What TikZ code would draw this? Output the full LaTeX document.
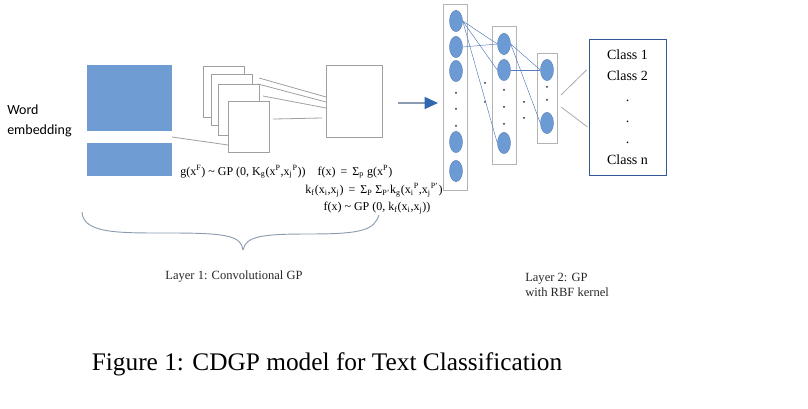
\documentclass[tikz,border=0pt]{standalone}
\usepackage{fontspec}
\setmainfont{Liberation Serif}
\newfontfamily\wordfont{Carlito}
\usepackage{xcolor}
\usetikzlibrary{positioning}
\usetikzlibrary{shapes.geometric}
\usetikzlibrary{arrows.meta}
\definecolor{embedblue}{RGB}{110,156,211}
\definecolor{nodeblue}{RGB}{108,154,212}
\definecolor{linkblue}{RGB}{84,124,190}
\definecolor{framegray}{RGB}{160,160,164}
\definecolor{classblue}{RGB}{52,88,150}
\definecolor{bracegray}{RGB}{140,156,176}
\definecolor{arrowblue}{RGB}{46,104,176}
\tikzset{%
    embed/.style={inner sep=0pt,outer sep=0pt,shape=rectangle,fill=embedblue,anchor=north west},
    frame/.style={inner sep=0pt,outer sep=0pt,shape=rectangle,draw=framegray,fill=white,line width=0.6pt,anchor=north west,minimum width=30.75pt,minimum height=38.25pt},
    feed/.style={draw=framegray,line width=0.6pt},
    layerbox/.style={inner sep=0pt,outer sep=0pt,shape=rectangle,draw=framegray!80,line width=0.6pt},
    neuron/.style={shape=ellipse,inner sep=0pt,fill=nodeblue,draw=nodeblue!85!black,line width=0.3pt,minimum width=9.75pt,minimum height=16pt},
    link/.style={draw=linkblue,line width=0.35pt},
    formula/.style={font=\fontsize{9}{10}\selectfont,inner sep=0pt},
    layerlabel/.style={font=\fontsize{9.4}{11.25}\selectfont,text=black!85,inner sep=0pt},
}

\begin{document}
\begin{tikzpicture}[x=0.75pt,y=-0.75pt]
        \useasboundingbox (0,0) rectangle (808,409);

        \node [anchor=west,align=left,inner sep=0pt,font=\wordfont\fontsize{10.5}{15}\selectfont] (word) at (7,121) {Word\\embedding};

        \node [embed,minimum width=63.75pt,minimum height=83.25pt] (emb) at (87,65) {};
        \node [embed,fill=white,minimum width=63.75pt,minimum height=9pt] (band) at (87,131) {};

        \foreach \x/\y [count=\i] in {203/66,211/74,218/84,228/101}
            \node [frame] (f\i) at (\x,\y) {};
        \node [frame,minimum width=42pt,minimum height=54pt] (pool) at (326,65) {};

        \draw [feed] (band.east) -- ([yshift=5.25pt]f4.south west);
        \draw [feed] ([shift={(5.25pt,-3pt)}]f2.north east) -- ([yshift=3pt]pool.west);
        \draw [feed] ([xshift=-0.75pt]f3.north east) -- ([yshift=-0.75pt]pool.west);
        \draw [feed] ([shift={(3pt,-9pt)}]f3.north east) -- ([yshift=-5.25pt]pool.west);
        \draw [feed] ([shift={(3pt,5.6pt)}]f4.east) -- ([shift={(-3pt,-12.75pt)}]pool.west);

        \node [formula] (gfx) at (243,172) {g(x\textsuperscript{F}) \textasciitilde{} GP (0, K\textsubscript{g}(x\textsuperscript{P},x\textsubscript{j}\textsuperscript{P}))};
        \node [formula] (fsum) at (355,172) {f(x) \,=\, Σ\textsubscript{p} g(x\textsuperscript{P})};
        \node [formula] (kf) at (374,190) {k\textsubscript{f}(x\textsubscript{i},x\textsubscript{j}) \,=\, Σ\textsubscript{P} Σ\textsubscript{P'}k\textsubscript{g}(x\textsubscript{i}\textsuperscript{P},x\textsubscript{j}\textsuperscript{P'})};
        \node [formula] (fgp) at (377,208) {f(x) \textasciitilde{} GP (0, k\textsubscript{f}(x\textsubscript{i},x\textsubscript{j}))};

        \draw [bracegray,line width=0.7pt] (82,212) .. controls (83,234) and (120,233) .. (170,233) .. controls (228,233) and (241,236) .. (243,250);
        \draw [bracegray,line width=0.7pt] (243,250) .. controls (246,236) and (262,234) .. (310,234) .. controls (362,234) and (374,230) .. (379,215);
        \node [layerlabel] (layer1) at (234,277) {Layer 1: Convolutional GP};

        \draw [draw=bracegray,line width=1pt,-{Triangle[length=10pt,width=9pt,color=arrowblue]}] (398,103) -- (438,103);

        \node [layerbox,minimum width=18pt,minimum height=139.5pt] (la) at (455,97) {};
        \node [layerbox,minimum width=18pt,minimum height=103.5pt] (lb) at (504,95) {};
        \node [layerbox,minimum width=15pt,minimum height=67.5pt] (lc) at (547,98) {};

        \foreach \y [count=\i] in {21,47,71,142,171}
            \node [neuron] (a\i) at (456,\y) {};
        \foreach \y [count=\i] in {44,70,143}
            \node [neuron] (b\i) at (504,\y) {};
        \foreach \y [count=\i] in {70,123}
            \node [neuron] (c\i) at (547,\y) {};

        \foreach \x/\y in {456/93,456/109,456/126,504/90,504/107,504/124,547/87,547/100,485/83,485/102,524/102,524/118}
            \fill [black!85] (\x,\y) circle (0.75pt);

        \draw [link] (a1.east) -- (b1.west);
        \draw [link] (a1.east) -- (b2.west);
        \draw [link] (a1.east) -- (b3.west);
        \draw [link] (a2.east) -- (b1.west);
        \draw [link] (b1.east) -- (c1.west);
        \draw [link] (b1.east) -- (c2.west);
        \draw [link] (b2.east) -- (c1.west);

        \node [shape=rectangle,draw=classblue,line width=0.7pt,minimum width=57.75pt,minimum height=102pt,align=center,inner sep=0pt,font=\fontsize{10.5}{15.75}\selectfont] (classes) at (627.5,107) {Class 1\\Class 2\\.\\.\\.\\Class n};

        \draw [feed,draw=framegray!90] ([shift={(3pt,2.25pt)}]lc.east) -- ([shift={(-1.5pt,27.75pt)}]classes.west);
        \draw [feed,draw=framegray!90] ([shift={(3pt,-6.75pt)}]lc.east) -- ([shift={(-0.75pt,-15pt)}]classes.west);

        \node [layerlabel,anchor=west,align=left] (layer2) at (525,285) {Layer 2: GP\\with RBF kernel};

        \node [font=\fontsize{19}{22}\selectfont,inner sep=0pt] (caption) at (327,364) {Figure 1: CDGP model for Text Classification};
    \end{tikzpicture}
\end{document}
